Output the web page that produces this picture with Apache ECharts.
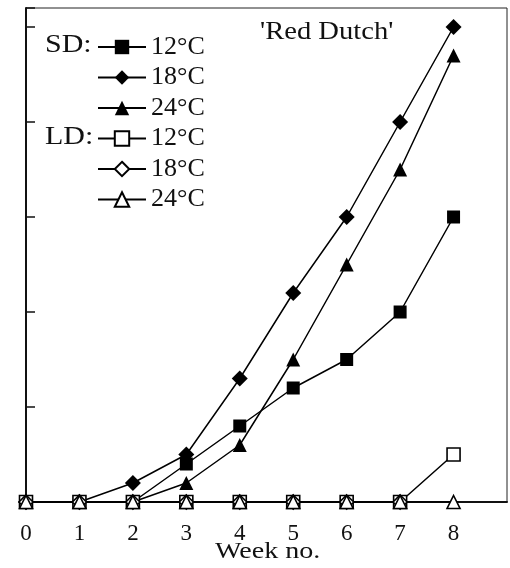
<!DOCTYPE html>
<html>
<head>
<meta charset="utf-8">
<script src="https://cdn.jsdelivr.net/npm/echarts@6/dist/echarts.min.js"></script>
<style>html,body{margin:0;padding:0;background:#fff}#c{width:510px;height:568px}</style>
</head>
<body>
<div id="c"></div>
<script>
const weeks = [0, 1, 2, 3, 4, 5, 6, 7, 8];
const xTickLabels = ['0', '1', '2', '3', '4', '5', '6', '7', '8'];
const sd12 = [0, 0, 0, 0.4, 0.8, 1.2, 1.5, 2.0, 3.0];
const sd18 = [0, 0, 0.2, 0.5, 1.3, 2.2, 3.0, 4.0, 5.0];
const sd24 = [0, 0, 0, 0.2, 0.6, 1.5, 2.5, 3.5, 4.7];
const ld12 = [0, 0, 0, 0, 0, 0, 0, 0, 0.5];
const ld18 = [0, 0, 0, 0, 0, 0, 0, 0, null];
const ld24 = [0, 0, 0, 0, 0, 0, 0, 0, 0];
const seriesNames = ['SD 12°C', 'SD 18°C', 'SD 24°C', 'LD 12°C', 'LD 18°C', 'LD 24°C'];

const FONT = '"Liberation Serif", "Times New Roman", serif';
const chart = echarts.init(document.getElementById('c'), null, {renderer: 'canvas'});

function mk(name, vals, symbol, size, open) {
  return {
    name: name,
    type: 'line',
    data: weeks.map((w, i) => [w, vals[i]]),
    symbol: symbol,
    symbolSize: size,
    showAllSymbol: true,
    connectNulls: false,
    lineStyle: {color: '#000', width: 1.5},
    itemStyle: open ? {color: '#fff', borderColor: '#000', borderWidth: 1.6}
                    : {color: '#000', borderColor: '#000', borderWidth: 0},
    emphasis: {disabled: true},
    animation: false,
    z: open ? 3 : 2
  };
}

const option = {
  animation: false,
  grid: {left: 26, top: 8, width: 484, height: 494, show: true, borderColor: '#222', borderWidth: 1, backgroundColor: 'transparent'},
  xAxis: {
    type: 'value', min: 0, max: 9, interval: 1,
    axisLine: {show: true, lineStyle: {color: '#111', width: 2}},
    axisTick: {show: false},
    splitLine: {show: false},
    axisLabel: {
      color: '#111', fontFamily: FONT, fontSize: 23, margin: 20,
      formatter: v => (v >= 0 && v <= 8 ? xTickLabels[v] : '')
    }
  },
  yAxis: {
    type: 'value', min: 0, max: 5.2, interval: 1,
    axisLine: {show: true, lineStyle: {color: '#111', width: 2}},
    axisTick: {show: true, inside: true, length: 9, lineStyle: {color: '#111', width: 1.5}},
    splitLine: {show: false},
    axisLabel: {show: false}
  },
  legend: {
    orient: 'vertical', left: 92, top: 29,
    itemWidth: 48, itemHeight: 18, itemGap: 4.5,
    data: seriesNames,
    formatter: n => n.slice(3),
    textStyle: {fontFamily: FONT, fontSize: 26, color: '#111', lineHeight: 18},
    selectedMode: false
  },
  graphic: [
    {type: 'text', x: 45, y: 33, scaleX: 1.2, style: {text: 'SD:', font: '25px ' + FONT, fill: '#111'}},
    {type: 'text', x: 45, y: 125, scaleX: 1.2, style: {text: 'LD:', font: '25px ' + FONT, fill: '#111'}},
    {type: 'text', x: 260, y: 19, scaleX: 1.1, style: {text: "'Red Dutch'", font: '26px ' + FONT, fill: '#111'}},
    {type: 'text', x: 215, y: 540, scaleX: 1.22, style: {text: 'Week no.', font: '23px ' + FONT, fill: '#111'}}
  ],
  series: [
    mk(seriesNames[0], sd12, 'rect', 13, false),
    mk(seriesNames[1], sd18, 'diamond', 16, false),
    mk(seriesNames[2], sd24, 'triangle', 14, false),
    mk(seriesNames[3], ld12, 'rect', 13, true),
    mk(seriesNames[4], ld18, 'diamond', 14, true),
    mk(seriesNames[5], ld24, 'triangle', 13, true)
  ]
};
chart.setOption(option);
</script>
</body>
</html>
